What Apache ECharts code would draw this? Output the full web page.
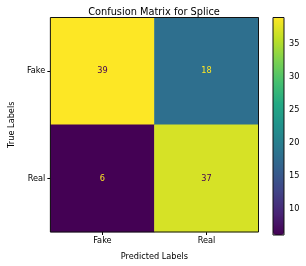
<!DOCTYPE html>
<html><head><meta charset="utf-8">
<script src="https://cdn.jsdelivr.net/npm/echarts@6/dist/echarts.min.js"></script>
<style>html,body{margin:0;padding:0;background:#fff}#c{width:306px;height:266px}</style>
</head><body><div id="c"></div>
<script>
const predictedLabels = ['Fake', 'Real'];
const trueLabels = ['Fake', 'Real'];
const matrixRowFake = [39, 18];
const matrixRowReal = [6, 37];
const colorbarTicks = [10, 15, 20, 25, 30, 35];
const vmin = 6, vmax = 39;
const viridis = ['#440154','#482475','#414487','#355f8d','#2a788e','#21918c','#22a884','#44bf70','#7ad151','#bddf26','#fde725'];

const rows = [matrixRowFake, matrixRowReal];
const data = [];
rows.forEach((row, r) => row.forEach((v, c) => {
  const dark = v > (vmin + vmax) / 2;
  data.push({value: [c, r, v], label: {color: dark ? '#440154' : '#fde725'}});
}));
const font = 'DejaVu Sans';
const fs = 8.2;
const chart = echarts.init(document.getElementById('c'), null, {renderer: 'canvas'});
chart.setOption({
  animation: false,
  backgroundColor: '#fff',
  textStyle: {fontFamily: font},
  title: {text: 'Confusion Matrix for Splice', left: 149, top: 2, textAlign: 'center',
    textStyle: {fontFamily: font, fontSize: 9.8, fontWeight: 'normal', color: '#000'}},
  grid: [
    {left: 42, top: 17.5, width: 216.5, height: 217.5, show: true, borderColor: '#111', borderWidth: 1, backgroundColor: 'transparent', z: 5},
    {left: 273, top: 17.5, width: 11, height: 217.5, show: true, borderColor: '#111', borderWidth: 1, backgroundColor: 'transparent', z: 5}
  ],
  xAxis: [
    {type: 'category', gridIndex: 0, data: predictedLabels, name: 'Predicted Labels', nameLocation: 'middle', nameGap: 21,
      nameTextStyle: {fontFamily: font, fontSize: fs, color: '#000'},
      axisLine: {show: false}, axisTick: {show: true, alignWithLabel: true, length: 3, lineStyle: {color: '#000'}},
      axisLabel: {fontFamily: font, fontSize: fs, color: '#000', margin: 5}, splitLine: {show: false}},
    {type: 'value', gridIndex: 1, show: false, min: 0, max: 1}
  ],
  yAxis: [
    {type: 'category', gridIndex: 0, data: trueLabels, inverse: true, name: 'True Labels', nameLocation: 'middle', nameGap: 30,
      nameTextStyle: {fontFamily: font, fontSize: fs, color: '#000'},
      axisLine: {show: false}, axisTick: {show: true, alignWithLabel: true, length: 3, lineStyle: {color: '#000'}},
      axisLabel: {fontFamily: font, fontSize: fs, color: '#000', margin: 5}, splitLine: {show: false}},
    {type: 'value', gridIndex: 1, position: 'right', min: vmin, max: vmax,
      axisLine: {show: false}, splitLine: {show: false},
      axisTick: {show: true, length: 3, lineStyle: {color: '#000'}, customValues: colorbarTicks},
      axisLabel: {fontFamily: font, fontSize: fs, color: '#000', margin: 5, customValues: colorbarTicks}}
  ],
  visualMap: {type: 'continuous', min: vmin, max: vmax, calculable: false, left: 273, top: 17.5,
    itemWidth: 11, itemHeight: 217.5, padding: 0, text: null, showLabel: false, seriesIndex: 0,
    inRange: {color: viridis}},
  series: [{type: 'heatmap', xAxisIndex: 0, yAxisIndex: 0, data: data,
    label: {show: true, fontFamily: font, fontSize: fs, formatter: p => p.value[2]},
    itemStyle: {borderWidth: 0}, emphasis: {disabled: true}}]
});
</script></body></html>
